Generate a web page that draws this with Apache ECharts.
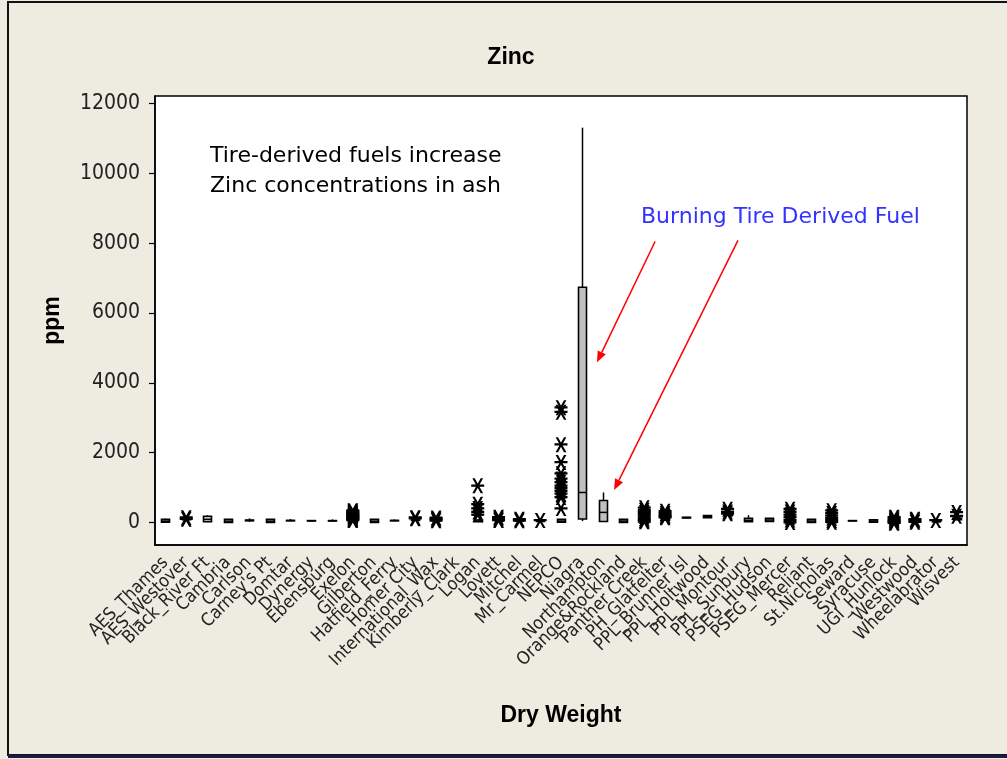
<!DOCTYPE html>
<html>
<head>
<meta charset="utf-8">
<script src="https://cdn.jsdelivr.net/npm/echarts@6/dist/echarts.min.js"></script>
<style>
html,body{margin:0;padding:0;background:#fff;}
#chart{width:1007px;height:759px;}
</style>
</head>
<body>
<div id="chart"></div>
<script>
// plant names along the x axis
var categories = ['AES_Thames','AES_Westover','Black_River Ft','Cambria','Carlson',"Carney's Pt",'Domtar','Dynergy',
  'Ebensburg','Exelon','Gilberton','Hatfield_Ferry','Homer City','International_Wax','Kimberly_Clark','Logan',
  'Lovett','Mitchel','Mr_Carmel','NEPCO','Niagra','Northampton','Orange&Rockland','Panther Creek','PH_Glatfelter',
  'PPL_Brunner Isl','PPL_Holtwood','PPL_Montour','PPL_Sunbury','PSEG_Hudson','PSEG_Mercer','Reliant','St.Nicholas',
  'Seward','Syracuse','UGI_Hunlock','Westwood','Wheelabrator','Wisvest'];

// box plot parts, ppm (null = no data)
var whiskerLow  = [10,70,10,5,20,5,40,40,30,10,5,40,50,40,null,10,30,30,20,10,40,20,5,10,50,120,140,200,20,30,10,5,10,40,10,10,10,10,60];
var q1          = [10,80,20,5,50,5,50,45,45,20,5,50,60,50,null,20,40,40,30,10,100,30,5,20,70,130,140,210,20,30,20,5,20,45,10,20,20,20,80];
var median      = [40,90,90,40,60,40,55,50,50,40,40,55,70,60,null,40,50,50,40,40,860,290,40,40,90,140,170,220,60,70,40,40,40,50,40,30,30,30,100];
var q3          = [90,100,180,95,70,95,60,55,55,60,95,60,80,70,null,70,60,60,50,90,6740,630,90,60,110,150,200,230,120,120,60,90,60,55,75,40,40,40,120];
var whiskerHigh = [110,110,210,100,120,100,100,60,90,80,100,90,90,80,null,90,70,70,60,100,11310,860,95,80,130,160,210,240,210,130,80,95,80,60,80,50,50,50,140];

// outliers (asterisks) for each plant
var outliers = [
  [], [140,95], [], [], [], [], [], [], [],
  [60,85,110,130,155,180,200,230,255,280,310,340],
  [], [], [140,110], [130,90,50], [],
  [1050,520,400,300,220],
  [150,100,60], [90,50], [60],
  [3290,3160,2230,1720,1400,1250,1150,1050,980,900,820,720,400],
  [], [], [],
  [420,350,290,230,170,110,60,20],
  [320,260,210,170,140],
  [], [], [380,300,250], [], [],
  [380,300,220,150,70,0],
  [],
  [340,260,190,120,60,10],
  [], [],
  [150,110,70,40,10,-20],
  [90,50,10], [60], [290,180]
];

var yTicks = [0,2000,4000,6000,8000,10000,12000];

// arrow annotations in data units: [category index, ppm]
var arrowFrom = [[23.52,8050],[27.5,8080]];
var arrowTo   = [[20.73,4590],[21.55,930]];

var boxData = [];
categories.forEach(function(c,i){
  if(median[i]!=null) boxData.push([i,whiskerLow[i],q1[i],median[i],q3[i],whiskerHigh[i]]);
});
var starData = [];
outliers.forEach(function(list,i){
  list.forEach(function(v){ starData.push([i,v]); });
});

var star = 'path://M0 6.1L13 6.1L13 8.4L0 8.4Z M1.1 0L3.5 0L11.9 15L9.5 15Z M9.5 0L11.9 0L3.5 15L1.1 15Z';
var tickFont = "'DejaVu Sans Condensed','Liberation Sans Narrow','DejaVu Sans',sans-serif";
var noteFont = "'DejaVu Sans',sans-serif";

function renderBox(params, api){
  var x = api.value(0);
  var lo = api.coord([x, api.value(1)]);
  var b1 = api.coord([x, api.value(2)]);
  var md = api.coord([x, api.value(3)]);
  var b3 = api.coord([x, api.value(4)]);
  var hi = api.coord([x, api.value(5)]);
  var cx = Math.round(lo[0]) + 0.5, hw = 4;
  var st = {stroke:'#000', lineWidth:1.5};
  return {type:'group', children:[
    {type:'line', shape:{x1:cx,y1:lo[1],x2:cx,y2:b1[1]}, style:st},
    {type:'line', shape:{x1:cx,y1:b3[1],x2:cx,y2:hi[1]}, style:st},
    {type:'rect', shape:{x:cx-hw,y:b3[1],width:hw*2,height:b1[1]-b3[1]}, style:{fill:'#C0C0C0',stroke:'#000',lineWidth:1.6}},
    {type:'line', shape:{x1:cx-hw,y1:md[1],x2:cx+hw,y2:md[1]}, style:st}
  ]};
}

var chart = echarts.init(document.getElementById('chart'));
chart.setOption({
  backgroundColor:'#EEEBE1',
  animation:false,
  grid:{left:155,top:96,width:812,height:449,show:true,backgroundColor:'#fff',borderColor:'#000',borderWidth:1.5},
  xAxis:{
    type:'category', data:categories, boundaryGap:true,
    name:'Dry Weight', nameLocation:'middle', nameGap:159,
    nameTextStyle:{fontFamily:'Liberation Sans',fontWeight:'bold',fontSize:23,color:'#000'},
    axisLine:{onZero:false,lineStyle:{color:'#000',width:1.5}},
    axisTick:{alignWithLabel:true,length:6,lineStyle:{color:'#000',width:1.2}},
    axisLabel:{interval:0,rotate:45,margin:15,fontSize:18,color:'#222',fontFamily:tickFont},
    splitLine:{show:false}
  },
  yAxis:{
    type:'value', min:-644, max:12217,
    name:'ppm', nameLocation:'middle', nameGap:91, nameRotate:90,
    nameTextStyle:{fontFamily:'Liberation Sans',fontWeight:'bold',fontSize:23,color:'#000'},
    axisLine:{show:true,lineStyle:{color:'#000',width:1.5}},
    axisTick:{show:true,length:6,customValues:yTicks,lineStyle:{color:'#000',width:1.2}},
    axisLabel:{customValues:yTicks,margin:15,fontSize:21,color:'#222',fontFamily:tickFont,
      formatter:function(v){ return String(v); }},
    splitLine:{show:false}
  },
  series:[
    {type:'custom', renderItem:renderBox, data:boxData, encode:{x:0,y:[1,2,3,4,5]}, z:2},
    {type:'scatter', data:starData, symbol:star, symbolSize:[13,15], itemStyle:{color:'#000',opacity:1}, z:3}
  ]
});

function px(p){
  var x0 = chart.convertToPixel({xAxisIndex:0}, 0);
  var x1 = chart.convertToPixel({xAxisIndex:0}, 1);
  return [x0 + p[0]*(x1-x0), chart.convertToPixel({yAxisIndex:0}, p[1])];
}

var graphics = [
  {type:'rect', shape:{x:8,y:2,width:1010,height:753}, style:{fill:null,stroke:'#111',lineWidth:2}, silent:true},
  {type:'line', shape:{x1:8,y1:756.5,x2:1007,y2:756.5}, style:{stroke:'#1c1a48',lineWidth:3}, silent:true},
  {type:'text', x:511, y:58, style:{text:'Zinc',fontFamily:'Liberation Sans',fontWeight:'bold',fontSize:23,fill:'#000',align:'center',verticalAlign:'middle'}},
  {type:'text', x:210, y:156, style:{text:'Tire-derived fuels increase',fontFamily:noteFont,fontSize:22,fill:'#000',verticalAlign:'middle'}, z:10},
  {type:'text', x:210, y:186, style:{text:'Zinc concentrations in ash',fontFamily:noteFont,fontSize:22,fill:'#000',verticalAlign:'middle'}, z:10},
  {type:'text', x:641, y:217, style:{text:'Burning Tire Derived Fuel',fontFamily:noteFont,fontSize:22,fill:'#3333FF',verticalAlign:'middle'}, z:10}
];
arrowFrom.forEach(function(f,i){
  var a = px(f), b = px(arrowTo[i]);
  var dx = b[0]-a[0], dy = b[1]-a[1], L = Math.sqrt(dx*dx+dy*dy);
  var ux = dx/L, uy = dy/L, hl = 11, hw = 4.5;
  var bx = b[0]-ux*hl, by = b[1]-uy*hl;
  graphics.push({type:'line', shape:{x1:a[0],y1:a[1],x2:bx,y2:by}, style:{stroke:'#FF0000',lineWidth:1.5}, z:10});
  graphics.push({type:'polygon', shape:{points:[[b[0],b[1]],[bx-uy*hw,by+ux*hw],[bx+uy*hw,by-ux*hw]]}, style:{fill:'#FF0000'}, z:10});
});
chart.setOption({graphic:graphics});
</script>
</body>
</html>
